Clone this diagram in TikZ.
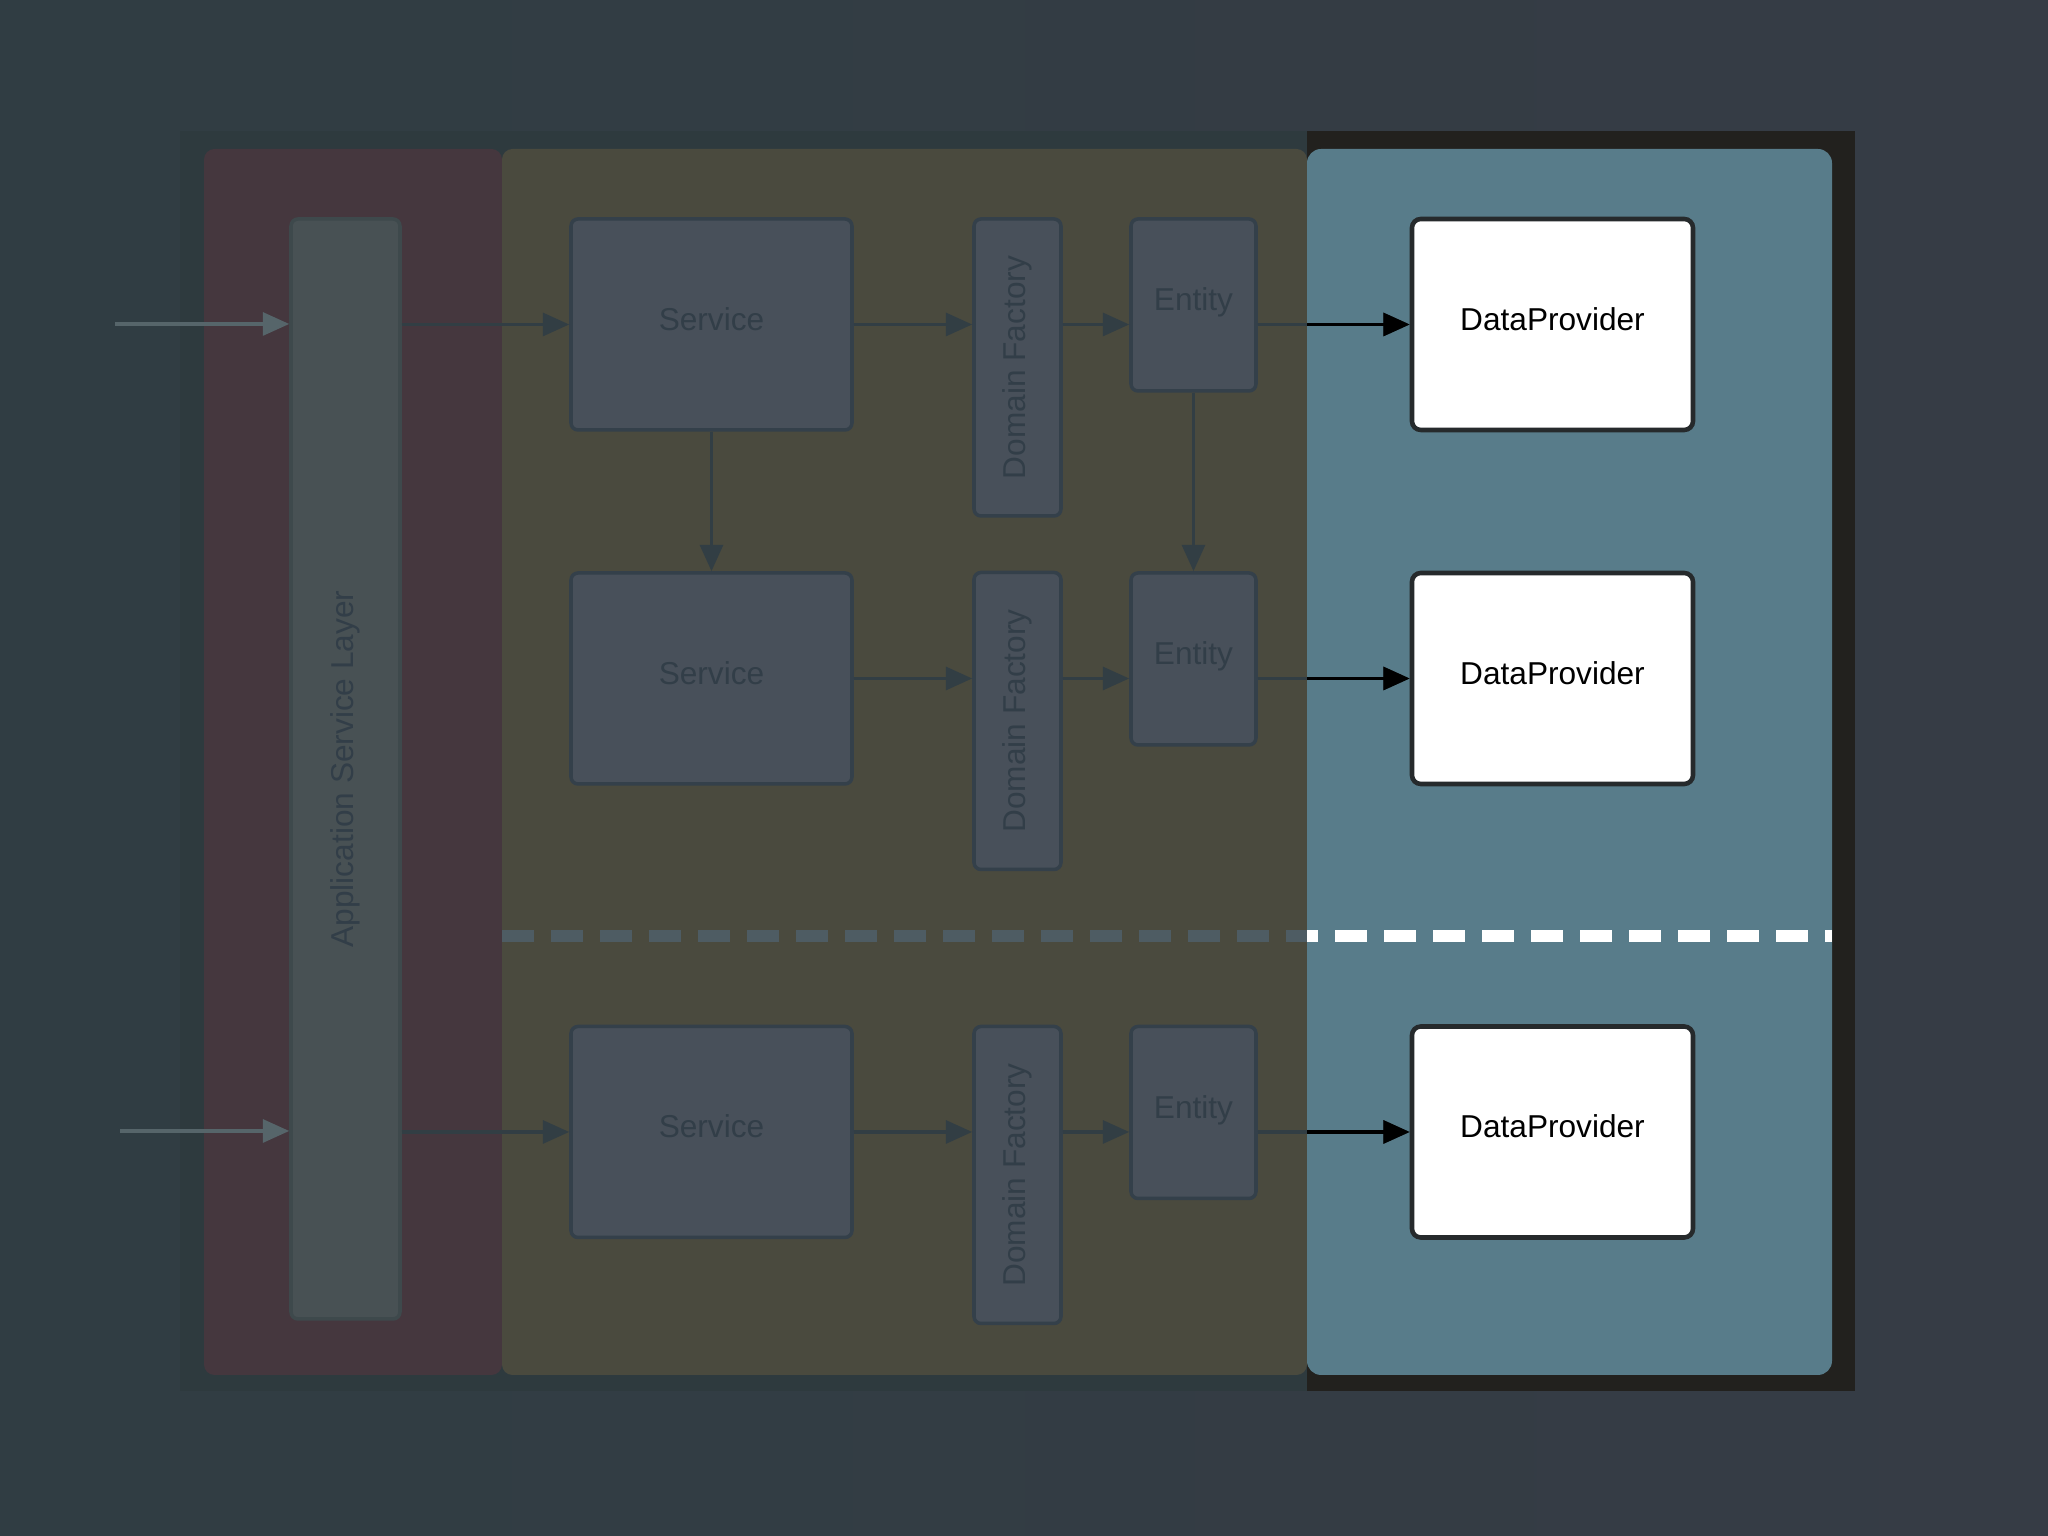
\documentclass[tikz,border=0pt]{standalone}
\usepackage{fontspec}
\setmainfont{Liberation Sans}
\usetikzlibrary{arrows.meta}
\definecolor{hglinks}{HTML}{303D43}
\definecolor{hgrechts}{HTML}{363C45}
\definecolor{rahmendunkel}{HTML}{2E3A3E}
\definecolor{rahmenschwarz}{HTML}{22211E}
\definecolor{rotflaeche}{HTML}{45373E}
\definecolor{olivflaeche}{HTML}{4A4A3E}
\definecolor{blauflaeche}{HTML}{587C8A}
\definecolor{appfuell}{HTML}{485154}
\definecolor{apprand}{HTML}{3E494C}
\definecolor{kastenfuell}{HTML}{48505A}
\definecolor{kastenrand}{HTML}{34404A}
\definecolor{kastentext}{HTML}{323E48}
\definecolor{pfeildunkel}{HTML}{323E44}
\definecolor{pfeilhell}{HTML}{56656A}
\definecolor{strichdunkel}{HTML}{4E5C63}
\definecolor{dprand}{HTML}{262A2C}
\begin{document}
\begin{tikzpicture}[>={Triangle[length=7.5pt,width=6.5pt]},
  font=\fontsize{9pt}{11pt}\selectfont,
  kasten/.style={draw=kastenrand,fill=kastenfuell,line width=1pt,rounded corners=2pt,inner sep=0pt,text=kastentext},
  zeile/.style={text height=6.5pt,text depth=3.2pt},
  dpkasten/.style={zeile,draw=dprand,fill=white,line width=1.3pt,rounded corners=2.5pt,inner sep=0pt,minimum width=2.81cm,minimum height=2.11cm},
  pfeil/.style={->,line width=1pt,draw=pfeildunkel,fill=pfeildunkel},
  trennlinie/.style={line width=3.4pt,dash pattern=on 0.32cm off 0.17cm}]
% Hintergrund
\useasboundingbox (0,0) rectangle (20.48,15.36);
\shade[left color=hglinks,right color=hgrechts] (0,0) rectangle (20.48,15.36);
\fill[rahmendunkel] (1.8,1.45) rectangle (13.07,14.05);
\fill[rahmenschwarz] (13.07,1.45) rectangle (18.55,14.05);
% Flaechen
\fill[rotflaeche,rounded corners=3pt] (2.04,1.61) rectangle (5.02,13.87);
\fill[olivflaeche,rounded corners=3pt] (5.02,1.61) rectangle (13.07,13.87);
\fill[blauflaeche,rounded corners=4pt] (13.07,1.61) rectangle (18.32,13.87);
% Trennlinie
\coordinate (trennA) at (5.02,6.0);
\coordinate (trennB) at (18.32,6.0);
\draw[trennlinie,strichdunkel] (trennA) -- (trennB);
% Anwendungsschicht
\node[kasten,fill=appfuell,draw=apprand,minimum width=1.09cm,minimum height=11.0cm] (app) at (3.455,7.67) {\rotatebox{90}{Application Service Layer}};
% Services
\node[kasten,zeile,minimum width=2.81cm,minimum height=2.11cm] (s1) at (7.115,12.115) {Service};
\node[kasten,zeile,minimum width=2.81cm,minimum height=2.11cm] (s2) at (7.115,8.575) {Service};
\node[kasten,zeile,minimum width=2.81cm,minimum height=2.11cm] (s3) at (7.115,4.04) {Service};
% Domain Factories
\node[kasten,minimum width=0.87cm,minimum height=2.97cm] (df1) at (10.175,11.685) {\rotatebox{90}{Domain Factory}};
\node[kasten,minimum width=0.87cm,minimum height=2.97cm] (df2) at (10.175,8.15) {\rotatebox{90}{Domain Factory}};
\node[kasten,minimum width=0.87cm,minimum height=2.97cm] (df3) at (10.175,3.61) {\rotatebox{90}{Domain Factory}};
% Entities
\node[kasten,zeile,minimum width=1.25cm,minimum height=1.72cm] (e1) at (11.935,12.31) {Entity};
\node[kasten,zeile,minimum width=1.25cm,minimum height=1.72cm] (e2) at (11.935,8.77) {Entity};
\node[kasten,zeile,minimum width=1.25cm,minimum height=1.72cm] (e3) at (11.935,4.235) {Entity};
% DataProvider
\node[dpkasten] (dp1) at (15.525,12.115) {DataProvider};
\node[dpkasten] (dp2) at (15.525,8.575) {DataProvider};
\node[dpkasten] (dp3) at (15.525,4.04) {DataProvider};
% Eingaenge
\coordinate (ein1) at (1.15,12.12);
\coordinate (ein2) at (1.20,4.05);
\draw[pfeil,draw=pfeilhell,fill=pfeilhell] (ein1) -- (ein1 -| app.west);
\draw[pfeil,draw=pfeilhell,fill=pfeilhell] (ein2) -- (ein2 -| app.west);
% Verbindungen
\draw[pfeil] (app.east |- s1) -- (s1.west);
\draw[pfeil] (app.east |- s3) -- (s3.west);
\draw[pfeil] (s1.east) -- (df1.west |- s1);
\draw[pfeil] (s2.east) -- (df2.west |- s2);
\draw[pfeil] (s3.east) -- (df3.west |- s3);
\draw[pfeil] (df1.east |- s1) -- (e1.west |- s1);
\draw[pfeil] (df2.east |- s2) -- (e2.west |- s2);
\draw[pfeil] (df3.east |- s3) -- (e3.west |- s3);
\draw[pfeil] (s1.south) -- (s2.north);
\draw[pfeil] (e1.south) -- (e2.north);
\draw[pfeil] (e1.east |- dp1) -- (dp1.west);
\draw[pfeil] (e2.east |- dp2) -- (dp2.west);
\draw[pfeil] (e3.east |- dp3) -- (dp3.west);
% hervorgehobener Teil (nur in der blauen Flaeche)
\begin{scope}
\clip (13.07,1.61) rectangle (18.32,13.87);
\draw[trennlinie,white] (trennA) -- (trennB);
\draw[pfeil,draw=black,fill=black] (e1.east |- dp1) -- (dp1.west);
\draw[pfeil,draw=black,fill=black] (e2.east |- dp2) -- (dp2.west);
\draw[pfeil,draw=black,fill=black] (e3.east |- dp3) -- (dp3.west);
\end{scope}
\end{tikzpicture}
\end{document}
